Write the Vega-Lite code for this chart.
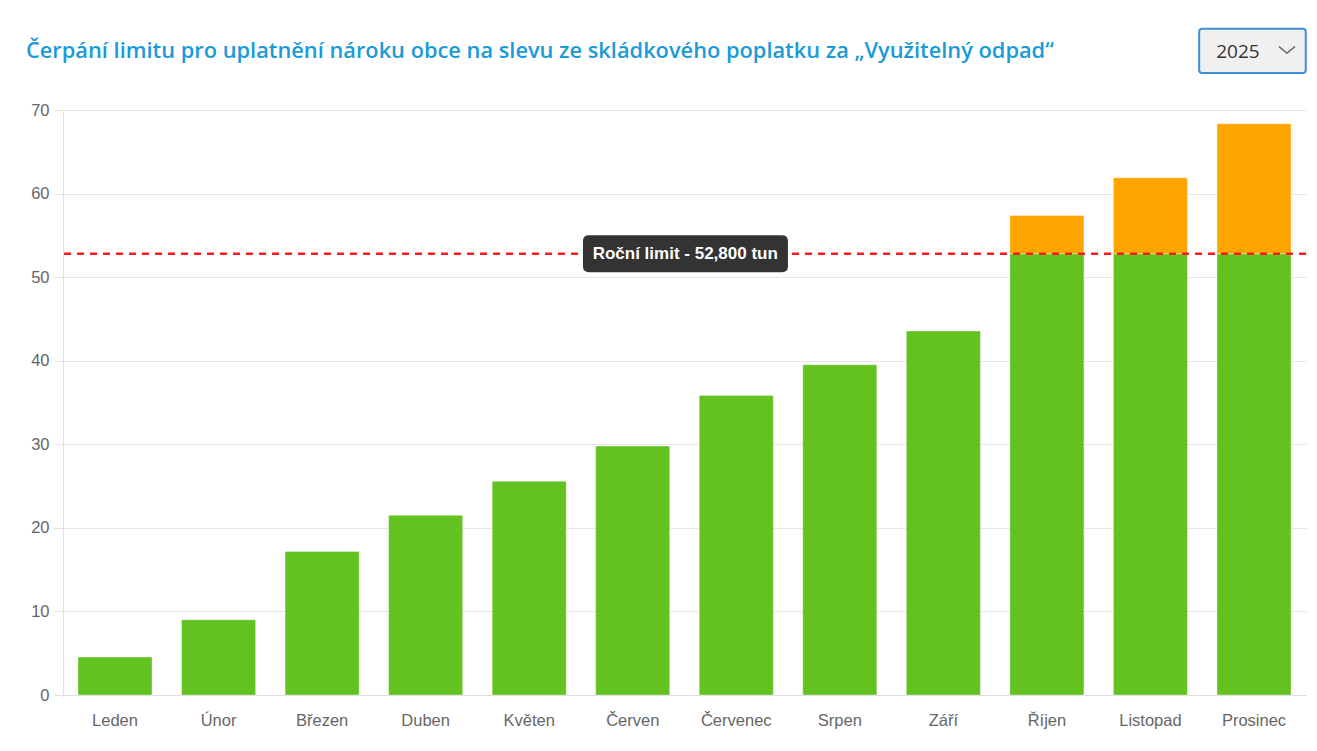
{
  "$schema": "https://vega.github.io/schema/vega-lite/v6.json",
  "width": 1243,
  "height": 585,
  "autosize": {"type": "none"},
  "padding": {"left": 63, "top": 110, "right": 11, "bottom": 56},
  "background": "white",
  "title": {
    "text": "Čerpání limitu pro uplatnění nároku obce na slevu ze skládkového poplatku za „Využitelný odpad“",
    "anchor": "start",
    "frame": "group",
    "dx": -37,
    "offset": -55.3,
    "baseline": "alphabetic",
    "font": "Open Sans",
    "fontSize": 21.8,
    "fontWeight": 600,
    "color": "#1a9bd7"
  },
  "config": {
    "view": {"stroke": null},
    "axis": {
      "labelFont": "Liberation Sans",
      "labelFontSize": 16.5,
      "labelColor": "#666666",
      "title": null
    }
  },
  "datasets": {
    "bars": [
      {"month": "Leden", "part": "do limitu", "value": 4.54},
      {"month": "Únor", "part": "do limitu", "value": 9.0},
      {"month": "Březen", "part": "do limitu", "value": 17.16},
      {"month": "Duben", "part": "do limitu", "value": 21.5},
      {"month": "Květen", "part": "do limitu", "value": 25.57},
      {"month": "Červen", "part": "do limitu", "value": 29.8},
      {"month": "Červenec", "part": "do limitu", "value": 35.85},
      {"month": "Srpen", "part": "do limitu", "value": 39.52},
      {"month": "Září", "part": "do limitu", "value": 43.55},
      {"month": "Říjen", "part": "do limitu", "value": 52.8},
      {"month": "Říjen", "part": "nad limit", "value": 4.57},
      {"month": "Listopad", "part": "do limitu", "value": 52.8},
      {"month": "Listopad", "part": "nad limit", "value": 9.1},
      {"month": "Prosinec", "part": "do limitu", "value": 52.8},
      {"month": "Prosinec", "part": "nad limit", "value": 15.56}
    ],
    "limit": [
      {"limit": 52.8, "month": "Červenec", "label": "Roční limit - 52,800 tun"}
    ],
    "select": [
      {"year": "2025", "month": "Prosinec", "pos": 77.08}
    ]
  },
  "layer": [
    {
      "data": {"name": "bars"},
      "mark": {"type": "bar", "stroke": "white", "strokeOpacity": 0.35, "strokeWidth": 1},
      "encoding": {
        "x": {
          "field": "month",
          "type": "nominal",
          "sort": null,
          "scale": {
            "domain": ["Leden", "Únor", "Březen", "Duben", "Květen", "Červen", "Červenec", "Srpen", "Září", "Říjen", "Listopad", "Prosinec"],
            "paddingInner": 0.285,
            "paddingOuter": 0.145
          },
          "axis": {
            "labelAngle": 0,
            "ticks": false,
            "tickSize": 0,
            "labelPadding": 17,
            "domainColor": "#dddddd",
            "grid": false
          }
        },
        "y": {
          "field": "value",
          "type": "quantitative",
          "stack": "zero",
          "scale": {"domain": [0, 70], "nice": false},
          "axis": {
            "values": [0, 10, 20, 30, 40, 50, 60, 70],
            "grid": true,
            "gridColor": "#e6e6e6",
            "domainColor": "#e0e0e0",
            "tickColor": "#e0e0e0",
            "tickSize": 9,
            "labelPadding": 5
          }
        },
        "color": {
          "field": "part",
          "type": "nominal",
          "scale": {"domain": ["do limitu", "nad limit"], "range": ["#63c220", "#ffa500"]},
          "legend": null
        },
        "order": {"field": "part", "sort": "ascending"}
      }
    },
    {
      "data": {"name": "limit"},
      "mark": {"type": "rule", "color": "#ff1a1a", "strokeWidth": 2.5, "strokeDash": [7, 6]},
      "encoding": {
        "y": {"field": "limit", "type": "quantitative"}
      }
    },
    {
      "data": {"name": "limit"},
      "mark": {
        "type": "point",
        "shape": "M-0.9415,-0.1805L0.9415,-0.1805Q1,-0.1805 1,-0.122L1,0.122Q1,0.1805 0.9415,0.1805L-0.9415,0.1805Q-1,0.1805 -1,0.122L-1,-0.122Q-1,-0.1805 -0.9415,-0.1805Z",
        "size": 42025,
        "filled": true,
        "fill": "#333333",
        "strokeWidth": 0,
        "opacity": 1,
        "xOffset": -13.8
      },
      "encoding": {
        "x": {"field": "month", "type": "nominal", "sort": null, "bandPosition": 0},
        "y": {"field": "limit", "type": "quantitative"}
      }
    },
    {
      "data": {"name": "limit"},
      "mark": {
        "type": "text",
        "font": "Liberation Sans",
        "fontSize": 17,
        "fontWeight": "bold",
        "color": "white",
        "align": "center",
        "baseline": "middle",
        "dx": -14
      },
      "encoding": {
        "x": {"field": "month", "type": "nominal", "sort": null, "bandPosition": 0},
        "y": {"field": "limit", "type": "quantitative"},
        "text": {"field": "label"}
      }
    },
    {
      "data": {"name": "select"},
      "mark": {
        "type": "point",
        "shape": "M-0.944,-0.4156L0.944,-0.4156Q1,-0.4156 1,-0.36L1,0.36Q1,0.4156 0.944,0.4156L-0.944,0.4156Q-1,0.4156 -1,0.36L-1,-0.36Q-1,-0.4156 -0.944,-0.4156Z",
        "size": 11364,
        "filled": true,
        "fill": "#f0f0f0",
        "stroke": "#3f8fd8",
        "strokeWidth": 2,
        "opacity": 1,
        "clip": false,
        "xOffset": -1.5
      },
      "encoding": {
        "x": {"field": "month", "type": "nominal", "sort": null},
        "y": {"field": "pos", "type": "quantitative"}
      }
    },
    {
      "data": {"name": "select"},
      "mark": {
        "type": "text",
        "font": "Open Sans",
        "fontSize": 19,
        "color": "#333333",
        "align": "center",
        "baseline": "middle",
        "dx": -16,
        "dy": 1
      },
      "encoding": {
        "x": {"field": "month", "type": "nominal", "sort": null},
        "y": {"field": "pos", "type": "quantitative"},
        "text": {"field": "year"}
      }
    },
    {
      "data": {"name": "select"},
      "mark": {
        "type": "point",
        "shape": "M-1,-0.42L0,0.42L1,-0.42",
        "size": 256,
        "filled": false,
        "stroke": "#555555",
        "strokeWidth": 1.3,
        "opacity": 1,
        "xOffset": 33,
        "yOffset": -1
      },
      "encoding": {
        "x": {"field": "month", "type": "nominal", "sort": null},
        "y": {"field": "pos", "type": "quantitative"}
      }
    }
  ]
}
